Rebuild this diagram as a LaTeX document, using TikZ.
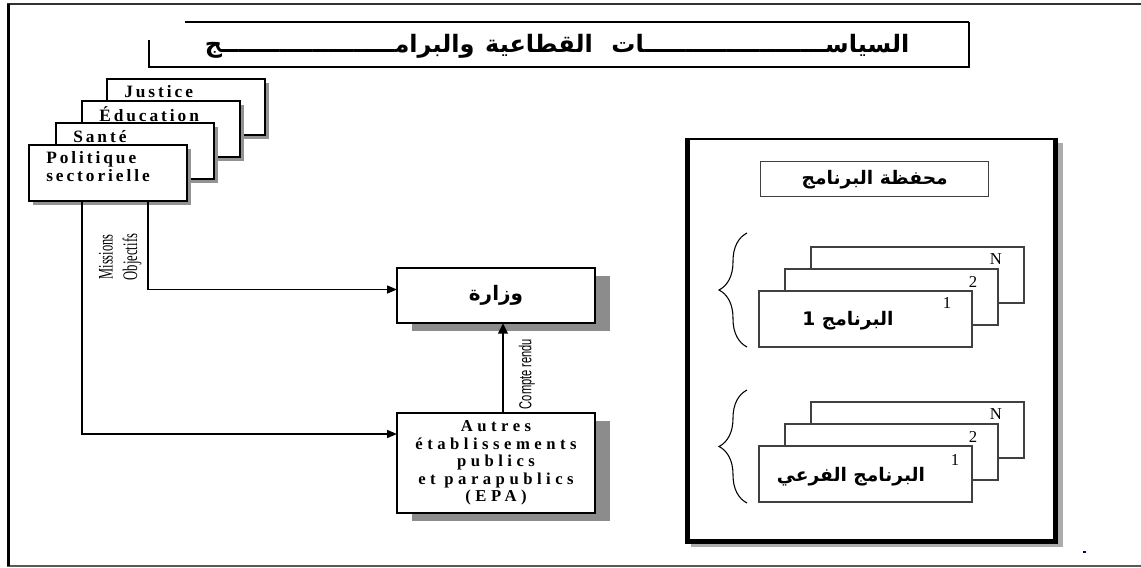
\documentclass[tikz,border=0pt]{standalone}
\usepackage{fontspec}
\setmainfont{Liberation Serif}
\newfontfamily\arb[Script=Arabic]{DejaVu Sans}
\newfontfamily\spaced[LetterSpace=17]{Liberation Serif}
\newfontfamily\epafont[LetterSpace=27]{Liberation Serif}
\newfontfamily\lsans{Liberation Sans}
\TeXXeTstate=1
\usetikzlibrary{calc,arrows.meta,decorations.pathreplacing,shadows}
\tikzset{
  sbox/.style={draw=black, fill=white, line width=1pt, inner sep=0pt, outer sep=0pt,
    minimum width=118.5pt, minimum height=42pt, anchor=north west,
    drop shadow={shadow xshift=3pt, shadow yshift=-3pt, fill=gray!85, opacity=1}},
  bigbox/.style={draw=black, fill=white, line width=1pt, inner sep=0pt, outer sep=0pt,
    minimum width=148.5pt,
    drop shadow={shadow xshift=11pt, shadow yshift=-6pt, fill=gray!90, opacity=1}},
  prog/.style={draw=black!75, fill=white, line width=1.1pt, inner sep=0pt, outer sep=0pt,
    minimum width=159.75pt, minimum height=42pt, anchor=north west},
  ltext/.style={font=\spaced\bfseries\fontsize{13}{13.5}\selectfont, inner sep=0pt, align=left},
  num/.style={font=\fontsize{12.5}{12.5}\selectfont, inner sep=0pt},
  artext/.style={font=\arb\bfseries\fontsize{14}{14}\selectfont, inner sep=0pt},
  conn/.style={line width=1.1pt, -{Triangle[length=7.5pt,width=6pt]}},
  thickconn/.style={line width=2.2pt, -{Triangle[length=8pt,width=7pt]}},
  bracestyle/.style={decorate, decoration={brace, amplitude=21pt}, line width=0.8pt}
}
\begin{document}
\begin{tikzpicture}[x=0.75pt,y=-0.75pt]
\useasboundingbox (0,0) rectangle (1141,567);
% outer frame
\draw[line width=1.5pt, black!80] (7,4) -- (1141,4);
\draw[line width=0.9pt, black!65] (7,566) -- (1141,566);
\draw[line width=2.3pt, black] (8.5,4) -- (8.5,566);

% title
\node[minimum width=615pt, minimum height=33.75pt, inner sep=0pt, outer sep=0pt, anchor=north west] (T) at (149,22) {};
\draw[line width=0.9pt] ($(T.north west)+(36,0)$) -- (T.north east);
\draw[line width=1.9pt] (T.north east) -- (T.south east) -- (T.south west) -- ($(T.north west)+(0,18)$);
\node[font=\arb\bfseries\fontsize{18}{18}\selectfont, inner sep=0pt] (Tt) at ($(T.center)+(-2,2)$)
  {\beginR السياســــــــــــــــــــــات\hspace{14pt}القطاعية\hspace{8pt}والبرامـــــــــــــــــــــج\endR};

% left stack
\node[sbox] (J) at (107,79) {};
\node[sbox] (Ed) at (82,101) {};
\node[sbox] (S) at (56,123) {};
\node[sbox] (P) at (29,145) {};
\node[ltext, anchor=west] (Jt) at ($(J.north west)+(17,13)$) {Justice};
\node[ltext, anchor=west] (Edt) at ($(Ed.north west)+(17,13)$) {Éducation};
\node[ltext, anchor=west] (St) at ($(S.north west)+(17,14)$) {Santé};
\node[ltext, anchor=west] (Pt) at ($(P.north west)+(17,22)$) {Politique\\sectorielle};

% ministry and EPA
\node[bigbox, minimum height=41.25pt] (W) at (496,295.5)
  {\arb\bfseries\fontsize{15}{15}\selectfont\beginR وزارة\endR};
\node[bigbox, minimum height=75pt, align=center,
  font=\epafont\bfseries\fontsize{12.5}{13.1}\selectfont] (E) at (496,463)
  {Autres\\établissements\\publics\\et parapublics\\(EPA)};

% connectors
\draw[conn] ($(P.south west)+(53,0)$) |- ($(E.north west)+(0,21)$);
\draw[conn] ($(P.south west)+(119,0)$) |- ($(W.north west)+(0,21.5)$);
\draw[thickconn] ($(E.north)+(7,0)$) -- ($(W.south)+(7,0)$);

% rotated labels
\node[rotate=90, inner sep=0pt] (mis) at (106,257)
  {\scalebox{0.6}[1]{\fontsize{15.5}{15.5}\selectfont Missions}};
\node[rotate=90, inner sep=0pt] (obj) at (132,257)
  {\scalebox{0.61}[1]{\fontsize{15.5}{15.5}\selectfont Objectifs}};
\node[rotate=90, inner sep=0pt] (cr) at (527,374)
  {\scalebox{0.64}[1]{\lsans\fontsize{13}{13}\selectfont Compte rendu}};

% right panel
\node[minimum width=276.75pt, minimum height=302.25pt, inner sep=0pt, outer sep=0pt, anchor=north west] (R) at (687,139) {};
\fill[gray!65] ($(R.north east)+(2,4)$) rectangle ($(R.south east)+(7,5)$);
\fill[gray!65] ($(R.south west)+(4,2)$) rectangle ($(R.south east)+(7,5)$);
\draw[line width=1.4pt] (R.north west) -- (R.north east);
\draw[line width=3.6pt] ($(R.north west)+(0.5,-1)$) -- ($(R.south west)+(0.5,2)$);
\draw[line width=3.6pt] ($(R.north east)+(-0.5,-1)$) -- ($(R.south east)+(-0.5,2)$);
\draw[line width=3.6pt] ($(R.south west)+(0,-0.5)$) -- ($(R.south east)+(2,-0.5)$);

\node[draw=black!75, line width=1.1pt, minimum width=171pt, minimum height=26.25pt, inner sep=0pt, anchor=north west, fill=white] (PF) at (760,161) {};
\node[artext] (PFt) at (PF.center) {\beginR محفظة البرنامج\endR};

% stack A
\node[prog] (AN) at (811,247) {};
\node[prog] (A2) at (785,269) {};
\node[prog] (A1) at (759,291) {};
\node[num] (ANn) at ($(AN.north west)+(185,12)$) {N};
\node[num] (A2n) at ($(A2.north west)+(188,13)$) {2};
\node[num] (A1n) at ($(A1.north west)+(188,12)$) {1};
\node[artext] (A1t) at ($(A1.north west)+(89,30)$) {\beginR البرنامج 1\endR};
\draw[bracestyle] ($(A1.south west)+(-12,0)$) -- ($(A1.south west)+(-12,-114)$);

% stack B
\node[prog] (BN) at (811,402) {};
\node[prog] (B2) at (785,424) {};
\node[prog] (B1) at (759,446) {};
\node[num] (BNn) at ($(BN.north west)+(185,12)$) {N};
\node[num] (B2n) at ($(B2.north west)+(188,13)$) {2};
\node[num] (B1n) at ($(B1.north west)+(196,14)$) {1};
\node[artext] (B1t) at ($(B1.north west)+(92,31)$) {\beginR البرنامج الفرعي\endR};
\draw[bracestyle] ($(B1.south west)+(-12,1)$) -- ($(B1.south west)+(-12,-112)$);

% small mark
\fill[blue!50!black] (1082.5,551) rectangle (1085.5,553);
\end{tikzpicture}
\end{document}
